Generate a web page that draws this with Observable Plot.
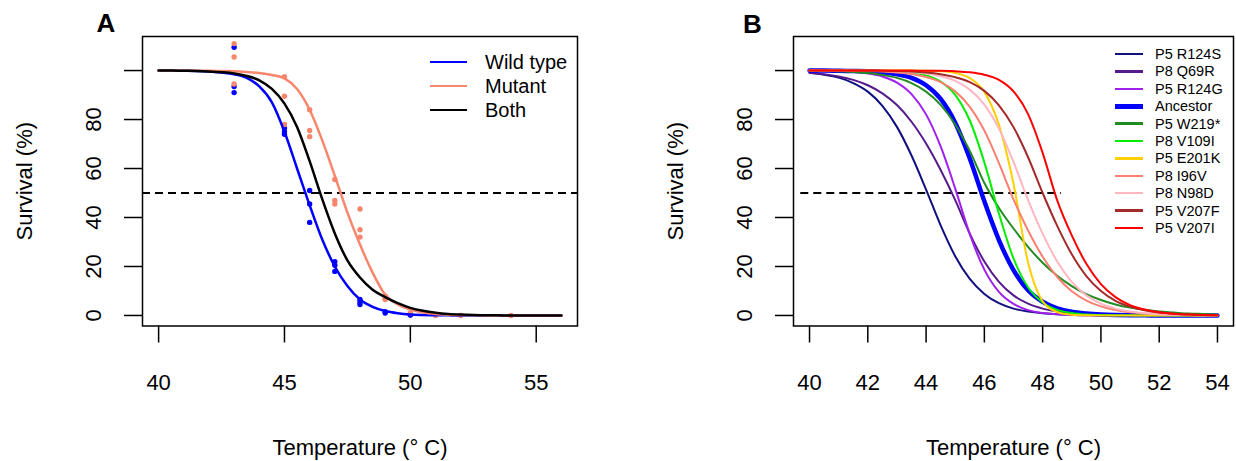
<!DOCTYPE html>
<html><head><meta charset="utf-8">
<script src="https://cdn.jsdelivr.net/npm/d3@7"></script>
<script src="https://cdn.jsdelivr.net/npm/@observablehq/plot@0.6"></script>
<style>
body{margin:0;background:#fff;}
#wrap{position:relative;width:1236px;height:461px;overflow:hidden;background:#fff;font-family:"Liberation Sans",Arial,sans-serif;}
.panel{position:absolute;top:0;}
.lg-line{position:absolute;}
.lg-text{position:absolute;line-height:1;transform:translateY(-50%);white-space:nowrap;color:#000;}
.plab{position:absolute;font-weight:bold;font-size:26px;line-height:1;color:#000;}
g[aria-label="x-axis tick"], g[aria-label="y-axis tick"]{stroke-width:1.5px;}
</style></head>
<body><div id="wrap"><div id="pa" class="panel" style="left:0"></div><div id="pb" class="panel" style="left:618px"></div></div>
<script>
// ---------- Panel A data ----------
const tempsA = [40,40.5,41,41.5,42,42.5,43,43.5,44,44.5,45,45.5,46,46.5,47,47.5,48,48.5,49,49.5,50,50.5,51,51.5,52,52.5,53,53.5,54,54.5,55,55.5,56];
const wildTypeFit = [100,100,99.9,99.8,99.6,99.2,98.5,97,93.5,87,75,60,45,31,20,12,6.5,3.5,1.8,0.9,0.4,0.2,0.1,0.05,0,0,0,0,0,0,0,0,0];
const mutantFit = [100,100,100,99.9,99.9,99.8,99.7,99.4,99,98.2,96.8,92.5,84,71.5,57,42,29,17.5,8.5,4.5,2.4,1.2,0.6,0.3,0.15,0.07,0.03,0,0,0,0,0,0];
const bothFit = [100,100,99.9,99.8,99.6,99.3,98.8,97.8,96,92.5,86.5,77,63,47.5,33.5,22.5,15.5,10.5,7.5,5,3.1,1.9,1.1,0.6,0.35,0.2,0.1,0.05,0,0,0,0,0];
const wtPointTemp = [43,43,43,45,45,45,46,46,46,47,47,47,48,48,48,49,49,50,50];
const wtPointSurv = [109.5,93.5,91,76.5,75,74,51,45.5,38,22,20.5,18,6.5,5.5,4.5,1.5,1,0.3,0.2];
const mutPointTemp = [43,43,43,45,45,45,46,46,46,47,47,47,48,48,48,49,49,49,50,51,52,54];
const mutPointSurv = [111,105.5,94.5,97.5,89.5,78,84,75.5,73,55.5,47,45.5,43.5,35,32,8,7,6.5,1,0,0,0];
const legendA = ["Wild type","Mutant","Both"];
const xTicksA = [40,45,50,55];
const yTicks = [0,20,40,60,80,100];
const yTickLabels = [0,20,40,60,80];
const threshold = 50;

// ---------- Panel B data ----------
const tempsB = [40,40.5,41,41.5,42,42.5,43,43.5,44,44.5,45,45.5,46,46.5,47,47.5,48,48.5,49,49.5,50,50.5,51,51.5,52,52.5,53,53.5,54];
const survP5R124S = [99.1,98.3,97.1,94.9,91.4,85.6,77.0,65.3,51.4,36.8,24.2,14.9,8.8,5.0,2.8,1.6,0.9,0.5,0.3,0.1,0.1,0,0,0,0,0,0,0,0];
const survP8Q69R = [99.1,98.5,97.6,96.2,94.0,90.7,85.9,79.1,70.2,59.4,47.1,33.4,22.0,13.7,8.2,4.8,2.8,1.6,0.9,0.5,0.3,0.2,0.1,0.05,0,0,0,0,0];
const survP5R124G = [99.9,99.9,99.7,99.4,98.8,97.6,95.1,90.4,82.1,69.0,51.8,33.2,18.7,9.6,4.7,2.2,1.0,0.5,0.2,0.1,0.05,0,0,0,0,0,0,0,0];
const survAncestor = [100,100,99.9,99.8,99.7,99.3,98.5,97.0,94.0,88.4,78.7,64.1,46.6,30.8,18.5,10.3,5.6,2.9,1.5,0.8,0.4,0.2,0.1,0.05,0,0,0,0,0];
const survP5W219 = [99.9,99.8,99.7,99.4,99.0,98.2,97.0,94.9,91.4,86.0,78.0,67.2,54.1,43.9,35.5,28.0,21.5,16.2,12.0,8.7,6.3,4.5,3.2,2.3,1.6,1.2,0.8,0.6,0.4];
const survP8V109I = [100,100,100,100,99.9,99.8,99.6,99.2,98.0,95.5,90.1,79.6,62.5,41.6,23.3,11.5,5.3,2.3,1.0,0.4,0.2,0.1,0.04,0,0,0,0,0,0];
const survP5E201K = [100,100,100,100,100,100,100,100,99.9,99.7,99.0,96.9,91.3,77.8,53.8,21.6,5.8,1.4,0.3,0.07,0.02,0,0,0,0,0,0,0,0];
const survP8I96V = [100,100,99.9,99.9,99.8,99.6,99.2,98.6,97.4,95.3,91.5,85.2,75.5,62.2,47.4,34.7,24.0,15.7,9.9,6.1,3.7,2.2,1.3,0.8,0.5,0.3,0.17,0.1,0.06];
const survP8N98D = [100,100,100,100,99.9,99.8,99.7,99.4,98.8,97.7,95.8,92.2,86.1,76.3,62.7,47.1,33.4,22.0,13.7,8.2,4.8,2.8,1.6,0.9,0.5,0.28,0.16,0.09,0.05];
const survP5V207F = [100,100,100,100,99.9,99.9,99.8,99.6,99.2,98.5,97.3,95.3,91.7,85.8,76.9,64.6,50.0,36.6,25.0,16.1,10.0,6.0,3.6,2.1,1.2,0.7,0.4,0.23,0.13];
const survP5V207I = [100,100,100,100,100,100,100,100,99.9,99.9,99.7,99.3,98.3,96.2,91.5,82.2,66.4,47.0,32.7,21.1,12.8,7.5,4.2,2.4,1.3,0.7,0.4,0.2,0.12];
const namesB = ["P5 R124S","P8 Q69R","P5 R124G","Ancestor","P5 W219*","P8 V109I","P5 E201K","P8 I96V","P8 N98D","P5 V207F","P5 V207I"];
const curvesB = [survP5R124S,survP8Q69R,survP5R124G,survAncestor,survP5W219,survP8V109I,survP5E201K,survP8I96V,survP8N98D,survP5V207F,survP5V207I];
const xTicksB = [40,42,44,46,48,50,52,54];
const dashedRangeB = [39.7, 48.65];

// ---------- styles ----------
const colorsA = ["#0000FF","#F8866C","#000000"];
const colorsB = ["#101080","#551A8B","#A020F0","#0000FF","#228B22","#00EE00","#FFD000","#FA8072","#FFB6C1","#A52A2A","#FF0000"];
const widthsB = [2,2,2,4.5,2,2,2,2,2,2,2];
const FONT = "'Liberation Sans', Arial, sans-serif";

function commonText(xTitleDy){
  return [
    Plot.text(yTickLabels, {y: d => d, text: d => String(d), frameAnchor: "left", dx: -49, rotate: -90, fontSize: 22, textAnchor: "middle", lineAnchor: "middle", fill: "black"}),
    Plot.text(["Survival (%)"], {text: d => d, frameAnchor: "left", dx: -118, rotate: -90, fontSize: 22, textAnchor: "middle", lineAnchor: "middle", fill: "black"}),
    Plot.text(["Temperature (\u00b0 C)"], {text: d => d, frameAnchor: "bottom", dy: xTitleDy, fontSize: 22, textAnchor: "middle", lineAnchor: "middle", fill: "black"})
  ];
}

// ---------- Panel A ----------
const rowsA = (vals) => tempsA.map((t, i) => ({t, s: vals[i]}));
const fitsA = [wildTypeFit, mutantFit, bothFit];
const plotA = Plot.plot({
  width: 618, height: 461,
  marginLeft: 142, marginRight: 41, marginTop: 36, marginBottom: 135.5,
  x: {domain: [39.36, 56.64], ticks: xTicksA, tickSize: 17, tickPadding: 31, label: null},
  y: {domain: [-4.3, 113.9], ticks: yTicks, tickSize: 18, tickFormat: () => "", label: null},
  style: {fontSize: "22px", fontFamily: FONT, background: "white", color: "black", overflow: "visible"},
  marks: [
    Plot.ruleY([threshold], {stroke: "black", strokeWidth: 2, strokeDasharray: "8,5"}),
    Plot.dot(wtPointTemp.map((t, i) => ({t, s: wtPointSurv[i]})), {x: "t", y: "s", r: 2.7, fill: colorsA[0], stroke: "none"}),
    Plot.dot(mutPointTemp.map((t, i) => ({t, s: mutPointSurv[i]})), {x: "t", y: "s", r: 2.7, fill: colorsA[1], stroke: "none"}),
    ...fitsA.map((f, j) => Plot.line(rowsA(f), {x: "t", y: "s", stroke: colorsA[j], strokeWidth: 2.5, curve: "monotone-x"})),
    Plot.frame({stroke: "black", strokeWidth: 1.5}),
    ...commonText(122)
  ]
});
document.getElementById("pa").appendChild(plotA);

// ---------- Panel B ----------
const plotB = Plot.plot({
  width: 618, height: 461,
  marginLeft: 175, marginRight: 3, marginTop: 36, marginBottom: 135.5,
  x: {domain: [39.45, 54.55], ticks: xTicksB, tickSize: 17, tickPadding: 31, label: null},
  y: {domain: [-4.3, 113.9], ticks: yTicks, tickSize: 18, tickFormat: () => "", label: null},
  style: {fontSize: "22px", fontFamily: FONT, background: "white", color: "black", overflow: "visible"},
  marks: [
    Plot.ruleY([threshold], {x1: dashedRangeB[0], x2: dashedRangeB[1], stroke: "black", strokeWidth: 2, strokeDasharray: "8,5"}),
    ...curvesB.map((vals, j) => Plot.line(tempsB.map((t, i) => ({t, s: vals[i]})), {x: "t", y: "s", stroke: colorsB[j], strokeWidth: widthsB[j], curve: "monotone-x"})),
    Plot.frame({stroke: "black", strokeWidth: 1.5}),
    ...commonText(122)
  ]
});
document.getElementById("pb").appendChild(plotB);

// ---------- legends & panel labels (HTML overlay) ----------
const wrap = document.getElementById("wrap");
function addLegend(names, colors, widths, x0, x1, tx, y0, dy, fs){
  names.forEach((n, i) => {
    const y = y0 + i * dy;
    const ln = document.createElement("div");
    ln.className = "lg-line";
    ln.style.cssText = `left:${x0}px;width:${x1 - x0}px;top:${y - widths[i] / 2}px;height:${widths[i]}px;background:${colors[i]};`;
    wrap.appendChild(ln);
    const tx_ = document.createElement("div");
    tx_.className = "lg-text";
    tx_.style.cssText = `left:${tx}px;top:${y}px;font-size:${fs}px;`;
    tx_.textContent = n;
    wrap.appendChild(tx_);
  });
}
addLegend(legendA, colorsA, [2.5, 2.5, 2.5], 430, 467, 485, 62, 24, 20);
addLegend(namesB, colorsB, widthsB.map(w => w + 0.5), 1115, 1143, 1155, 54, 17.4, 14.5);
[["A", 96.5, 10], ["B", 743, 11]].forEach(([t, x, y]) => {
  const d = document.createElement("div");
  d.className = "plab"; d.style.left = x + "px"; d.style.top = y + "px"; d.textContent = t;
  wrap.appendChild(d);
});
</script>
</body></html>
